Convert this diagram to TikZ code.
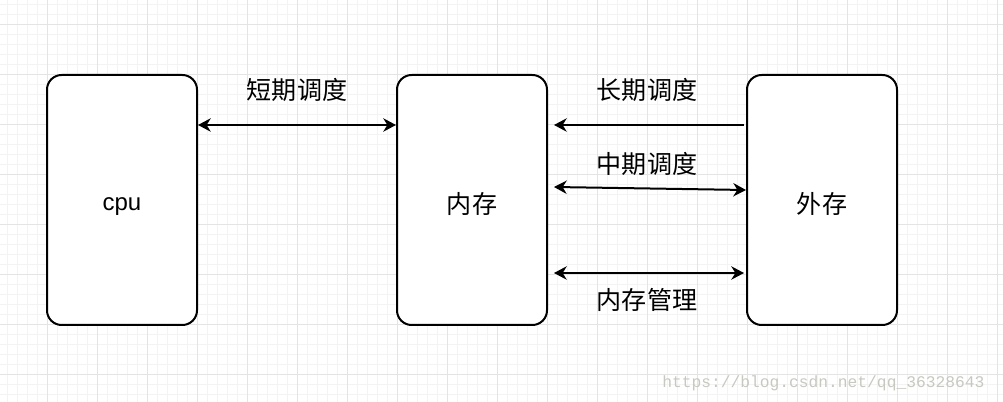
\documentclass[tikz,border=0pt]{standalone}
\usepackage{fontspec}
\setmainfont{Liberation Sans}
\newfontfamily\cjk{Noto Sans CJK SC}
\newfontfamily\wmfont{Liberation Mono}
\usetikzlibrary{arrows.meta,calc}
\begin{document}
\begin{tikzpicture}[x=0.75pt,y=-0.75pt,
  box/.style={draw=black,line width=1.5pt,rounded corners=11pt,fill=white,minimum width=112.5pt,minimum height=187.5pt,inner sep=0pt},
  lbl/.style={font=\cjk\fontsize{18.8pt}{21pt}\selectfont,inner sep=0pt},
  conn/.style={line width=1.5pt,-{Stealth[length=9.5pt,width=10pt,inset=3pt]}},
  conn2/.style={line width=1.5pt,{Stealth[length=9.5pt,width=10pt,inset=3pt]}-{Stealth[length=9.5pt,width=10pt,inset=3pt]}},
  minorgrid/.style={draw={rgb,255:red,243;green,243;blue,243},line width=0.75pt},
  majorgrid/.style={draw={rgb,255:red,228;green,228;blue,228},line width=0.75pt}]
\useasboundingbox (0,0) rectangle (1003,402);
\fill[white] (0,0) rectangle (1003,402);
% grid
\foreach \x in {7,17,...,1003} \draw[minorgrid] (\x,0) -- (\x,402);
\foreach \y in {5,15,...,402} \draw[minorgrid] (0,\y) -- (1003,\y);
\foreach \x in {-3,47,...,1003} \draw[majorgrid] (\x,0) -- (\x,402);
\foreach \y in {25,75,...,402} \draw[majorgrid] (0,\y) -- (1003,\y);
% boxes
\node[box] (cpu) at (122,200) {};
\node[box] (mem) at (472,200) {};
\node[box] (ext) at (822,200) {};
\node[font=\fontsize{18pt}{20pt}\selectfont,inner sep=0pt] (cputext) at ($(cpu.center)+(0,7)$) {cpu};
\node[lbl] (memtext) at ($(mem.center)+(0,4)$) {内存};
\node[lbl] (exttext) at ($(ext.center)+(0,4)$) {外存};
% connectors
\draw[conn2] ($(cpu.east)+(0,-75)$) -- ($(mem.west)+(0,-75)$);
\draw[conn] ($(ext.west)+(-2,-75)$) -- ($(mem.east)+(6,-75)$);
\draw[conn2] ($(mem.east)+(6,-13)$) -- ($(ext.west)+(0,-10)$);
\draw[conn2] ($(mem.east)+(6,73)$) -- ($(ext.west)+(-2,73)$);
% labels
\node[lbl] (l1) at (297,90) {短期调度};
\node[lbl] (l2) at (647,90) {长期调度};
\node[lbl] (l3) at (647,164) {中期调度};
\node[lbl] (l4) at (647,300) {内存管理};
% watermark
\node[font=\wmfont\fontsize{12.2pt}{14pt}\selectfont,text={rgb,255:red,200;green,200;blue,192},inner sep=0pt,anchor=west] (wm) at (662,383) {https://blog.csdn.net/qq\_36328643};
\end{tikzpicture}
\end{document}
